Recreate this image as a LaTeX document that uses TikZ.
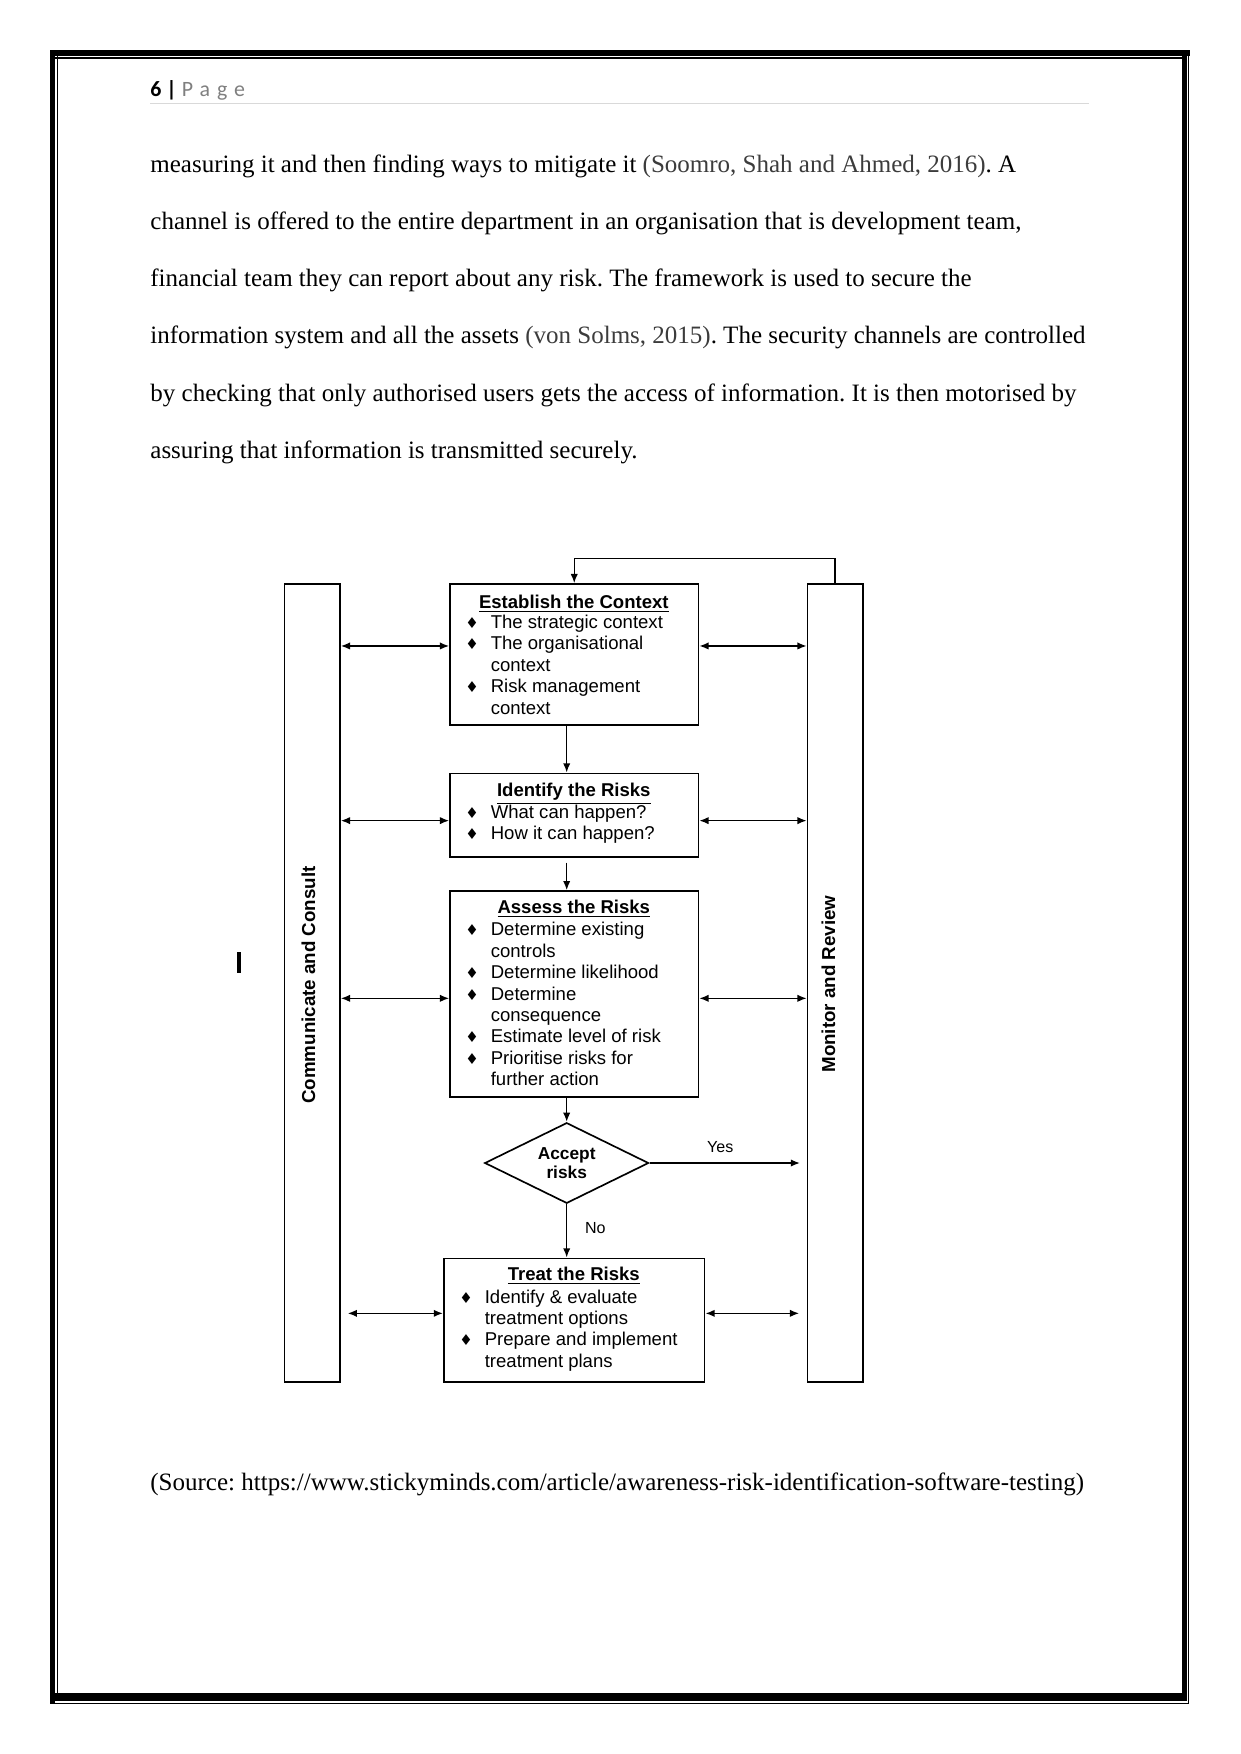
\documentclass[tikz,border=0pt]{standalone}
\usepackage{fontspec}
\usepackage{xcolor}
\setmainfont{Liberation Serif}
\newfontfamily\diafont{Liberation Sans}
\newfontfamily\hdrfont{Carlito}
\newfontfamily\symfont{DejaVu Sans}
\usetikzlibrary{positioning, arrows.meta, shapes.geometric}
\definecolor{citegray}{RGB}{60,60,60}
\definecolor{pagegray}{RGB}{127,127,127}
\definecolor{rulegray}{RGB}{217,217,217}
\newcommand{\boxfont}{\diafont\fontsize{8.9}{10.3}\selectfont}
\newcommand{\hdfont}{\diafont\bfseries\fontsize{8.9}{10.3}\selectfont}
\newcommand{\accfont}{\diafont\bfseries\fontsize{8.3}{8.8}\selectfont}
\newcommand{\sidefont}{\diafont\bfseries\fontsize{9}{10}\selectfont}
\newcommand{\lblfont}{\diafont\fontsize{7.7}{9}\selectfont}
\newcommand{\bul}{\makebox[12.2pt][l]{\symfont\fontsize{7.2}{7.2}\selectfont ♦}}
\newcommand{\ind}{\hspace*{12.2pt}}
\frenchspacing

\begin{document}
\begin{tikzpicture}[x=0.48pt, y=-0.48pt,
  colb/.style={draw, line width=0.8pt, inner sep=0, minimum width=26.6pt, minimum height=382.9pt},
  procb/.style={draw, line width=0.8pt, inner sep=0, minimum width=119.3pt},
  decb/.style={draw, diamond, aspect=2, line width=0.8pt, inner sep=0,
               minimum width=78.7pt, minimum height=38.7pt, align=center, font=\accfont},
  hd/.style={anchor=base, inner sep=0, font=\hdfont},
  lst/.style={anchor=north west, inner sep=0, align=left, font=\boxfont},
  vlbl/.style={rotate=90, inner sep=0, font=\sidefont},
  lbl/.style={inner sep=0, font=\lblfont},
  txt/.style={anchor=base west, inner sep=0, font=\fontsize{12}{14}\selectfont},
  arr/.style={-{Latex[length=4.4pt,width=3.5pt]}, line width=0.7pt},
  darr/.style={{Latex[length=4.4pt,width=3.5pt]}-{Latex[length=4.4pt,width=3.5pt]}, line width=0.7pt},
]
\useasboundingbox (0,0) rectangle (1241,1754);

% page border (thick and thin rules)
\draw[line width=2.9pt] (50,53) -- (1189.5,53);
\draw[line width=2.5pt] (52.6,50) -- (52.6,1703.8);
\draw[line width=2.7pt] (1184.5,50) -- (1184.5,1700.5);
\draw[line width=3.6pt] (55,1696.8) -- (1187.3,1696.8);
\draw[line width=0.5pt] (55,58) -- (1181.7,58);
\draw[line width=0.5pt] (57.7,56) -- (57.7,1693);
\draw[line width=0.5pt] (1188.6,55) -- (1188.6,1703.8);
\draw[line width=0.5pt] (50,1703.3) -- (1189.3,1703.3);

% page header
\node[anchor=base west, inner sep=0, font=\hdrfont\fontsize{10.5}{12}\selectfont] (pgno) at (150,96.7)
  {\textbf{6 |} \textcolor{pagegray}{\addfontfeature{LetterSpace=32}Page}};
\draw[rulegray, line width=0.6pt] (150,103.3) -- (1089,103.3);

% body text
\node[txt] (p1) at (150,172) {measuring it and then finding ways to mitigate it \textcolor{citegray}{(Soomro, Shah and Ahmed, 2016)}. A};
\node[txt] (p2) at (150,229) {channel is offered to the entire department in an organisation that is development team,};
\node[txt] (p3) at (150,286.5) {financial team they can report about any risk. The framework is used to secure the};
\node[txt] (p4) at (150,343) {information system and all the assets \textcolor{citegray}{(von Solms, 2015)}. The security channels are controlled};
\node[txt] (p5) at (150,401.5) {by checking that only authorised users gets the access of information. It is then motorised by};
\node[txt] (p6) at (150,458.5) {assuring that information is transmitted securely.};

% side columns
\node[colb] (cc) at (312.3,982.85) {};
\node[colb] (mr) at (835.2,982.85) {};
\node[vlbl] (cclbl) at (308.5,985) {Communicate and Consult};
\node[vlbl] (mrlbl) at (828.5,984) {Monitor and Review};

% process boxes
\node[procb, minimum height=67.7pt] (ctx) at (574.25,654.5) {};
\node[procb, minimum height=40pt] (idr) at (574.25,815) {};
\node[procb, minimum height=99pt] (asr) at (574.25,994.15) {};
\node[decb] (acc) at (566.7,1163) {Accept\\risks};
\node[procb, minimum width=125.2pt, minimum height=59.2pt] (trr) at (574.2,1320) {};

% box texts
\node[hd] (ctxh) at (573.8,608.2) {\underline{Establish the Context}};
\node[lst] (ctxt) at (465,614.5) {\bul The strategic context\\\bul The organisational\\\ind context\\\bul Risk management\\\ind context};
\node[hd] (idrh) at (573.8,796.5) {\underline{Identify the Risks}};
\node[lst] (idrt) at (465,804.2) {\bul What can happen?\\\bul How it can happen?};
\node[hd] (asrh) at (573.8,913.8) {\underline{Assess the Risks}};
\node[lst] (asrt) at (465,921.8) {\bul Determine existing\\\ind controls\\\bul Determine likelihood\\\bul Determine\\\ind consequence\\\bul Estimate level of risk\\\bul Prioritise risks for\\\ind further action};
\node[hd] (trrh) at (573.8,1280.5) {\underline{Treat the Risks}};
\node[lst] (trrt) at (459,1289.2) {\bul Identify \& evaluate\\\ind treatment options\\\bul Prepare and implement\\\ind treatment plans};

% stray mark left of the figure
\fill (237.3,951.7) rectangle (240.7,973.3);

% flow arrows
\draw[arr] (mr.north) |- ([yshift=11.86pt]ctx.north) -- (ctx.north);
\draw[arr] (ctx.south -| acc) -- (idr.north -| acc);
\draw[arr, shorten <=2.4pt] (idr.south -| acc) -- (asr.north -| acc);
\draw[arr] (asr.south -| acc) -- (acc.north);
\draw[arr] (acc.south) -- node[lbl, pos=0.45, right=8.5pt] (nolbl) {No} (trr.north -| acc);
\coordinate (yesend) at (800,1163);
\draw[arr] (acc.east) -- node[lbl, pos=0.47, above=4.6pt] (yeslbl) {Yes} (yesend);

% links to the side columns
\coordinate (ctxw) at ([yshift=4.1pt]ctx.west);
\coordinate (ctxe) at ([yshift=4.1pt]ctx.east);
\coordinate (idrw) at ([yshift=-2.7pt]idr.west);
\coordinate (idre) at ([yshift=-2.7pt]idr.east);
\coordinate (asrw) at ([yshift=-2pt]asr.west);
\coordinate (asre) at ([yshift=-2pt]asr.east);
\coordinate (trrw) at ([yshift=3.2pt]trr.west);
\coordinate (trre) at ([yshift=3.2pt]trr.east);
\draw[darr] (cc.east |- ctxw) -- (ctxw);
\draw[darr] (ctxe) -- (mr.west |- ctxe);
\draw[darr] (cc.east |- idrw) -- (idrw);
\draw[darr] (idre) -- (mr.west |- idre);
\draw[darr] (cc.east |- asrw) -- (asrw);
\draw[darr] (asre) -- (mr.west |- asre);
\draw[darr, shorten <=3.3pt] (cc.east |- trrw) -- (trrw);
\draw[darr, shorten >=3.6pt] (trre) -- (mr.west |- trre);

% source line
\node[txt] (src) at (150,1490) {(Source: https://www.stickyminds.com/article/awareness-risk-identification-software-testing)};
\end{tikzpicture}
\end{document}
